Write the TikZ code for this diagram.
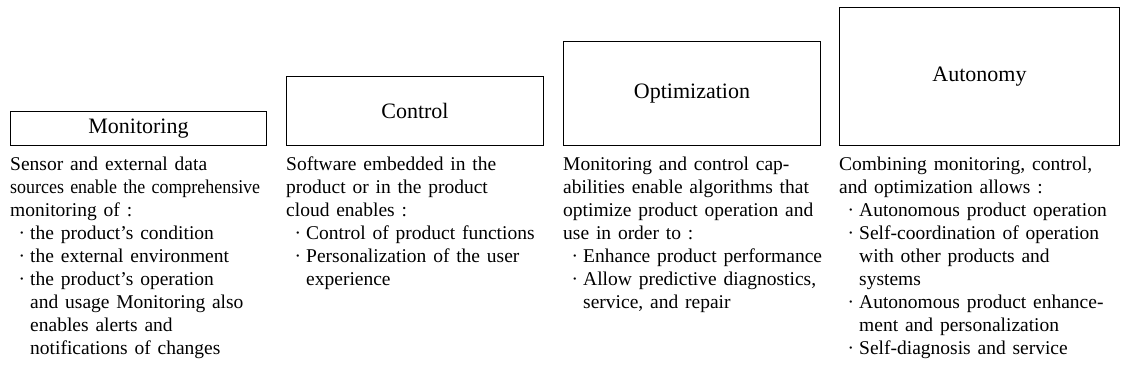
\documentclass[tikz,border=0pt]{standalone}
\usepackage{fontspec}
\setmainfont{Liberation Serif}[WordSpace=1.4]

% bullet, continuation indent and a squeezed line for the lists
\newcommand{\bul}{\makebox[20pt][r]{\textperiodcentered\hspace{5pt}}}
\newcommand{\contd}{\hspace*{20pt}}
\newcommand{\squeeze}[1]{\scalebox{0.92}[1]{#1}}

\begin{document}
\begin{tikzpicture}[x=1pt, y=-1pt,
	stage/.style = {draw, line width=0.9pt, anchor=south west, font=\fontsize{22}{26}\selectfont},
	desc/.style = {anchor=north west, inner sep=0pt, align=left, font=\fontsize{19.5}{23}\selectfont, execute at begin node=\strut}]
	\useasboundingbox (0,0) rectangle (1132,381);
	% the four stages, growing in height
	\node[stage, minimum width=256pt, minimum height=34pt] (mon) at (10,146) {Monitoring};
	\node[stage, minimum width=257pt, minimum height=69pt] (ctl) at (286,146) {Control};
	\node[stage, minimum width=257pt, minimum height=104pt] (opt) at (563,146) {Optimization};
	\node[stage, minimum width=280pt, minimum height=138pt] (aut) at (839,146) {Autonomy};
	% descriptions below each stage
	\node[desc] (mondesc) at (10,157) {Sensor and external data\\
		\squeeze{sources enable the comprehensive}\\
		monitoring of :\\
		\bul the product’s condition\\
		\bul the external environment\\
		\bul the product’s operation\\
		\contd and usage Monitoring also\\
		\contd enables alerts and\\
		\contd notifications of changes};
	\node[desc] (ctldesc) at (286,157) {Software embedded in the\\
		product or in the product\\
		cloud enables :\\
		\bul Control of product functions\\
		\bul Personalization of the user\\
		\contd experience};
	\node[desc] (optdesc) at (563,157) {Monitoring and control cap-\\
		abilities enable algorithms that\\
		optimize product operation and\\
		use in order to :\\
		\bul Enhance product performance\\
		\bul Allow predictive diagnostics,\\
		\contd service, and repair};
	\node[desc] (autdesc) at (839,157) {Combining monitoring, control,\\
		and optimization allows :\\
		\bul Autonomous product operation\\
		\bul Self-coordination of operation\\
		\contd with other products and\\
		\contd systems\\
		\bul Autonomous product enhance-\\
		\contd ment and personalization\\
		\bul Self-diagnosis and service};
\end{tikzpicture}
\end{document}
